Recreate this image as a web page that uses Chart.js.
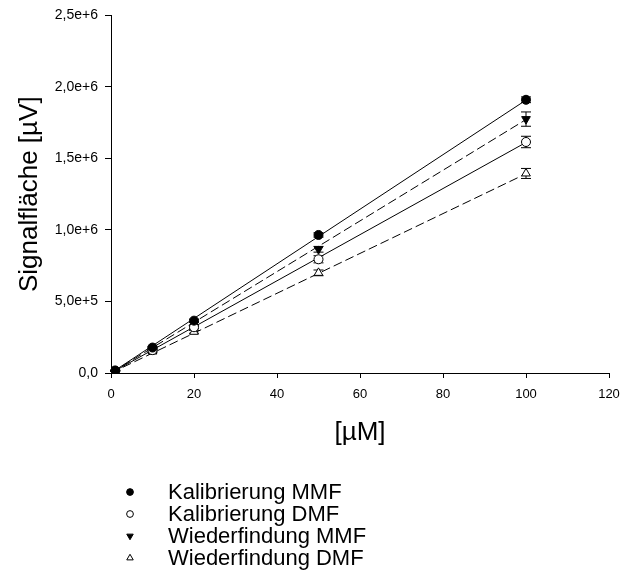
<!DOCTYPE html>
<html><head><meta charset="utf-8">
<script src="https://cdn.jsdelivr.net/npm/chart.js@4.4.0/dist/chart.umd.min.js"></script>
<style>html,body{margin:0;padding:0;background:#fff}#wrap{position:relative;width:621px;height:583px}</style>
</head><body><div id="wrap"><canvas id="c"></canvas></div>
<script>
// ---- data ----
const concentrations = [1, 10, 20, 50, 100];
const kalibrierungMMF = [18000, 178000, 366000, 965000, 1910000];
const kalibrierungDMF = [15000, 160000, 320000, 795000, 1615000];
const wiederfindungMMF = [17000, 170000, 345000, 865000, 1775000];
const wiederfindungDMF = [14000, 150000, 288000, 700000, 1395000];
const errKalMMF = [3000, 8000, 10000, 15000, 20000];
const errKalDMF = [3000, 8000, 10000, 25000, 40000];
const errWfMMF = [3000, 8000, 10000, 20000, 50000];
const errWfDMF = [3000, 8000, 10000, 20000, 35000];
const fitX = [0, 100];
const fitKalMMF = [0, 1908000];
const fitKalDMF = [0, 1612000];
const fitWfMMF = [0, 1772000];
const fitWfDMF = [0, 1393000];
const seriesLabels = ['Kalibrierung MMF', 'Kalibrierung DMF', 'Wiederfindung MMF', 'Wiederfindung DMF'];
const xTickValues = [0, 20, 40, 60, 80, 100, 120];
const yTickLabels = ['0,0', '5,0e+5', '1,0e+6', '1,5e+6', '2,0e+6', '2,5e+6'];
const xTitle = '[µM]';
const yTitle = 'Signalfläche [µV]';

const FONT = "Arial, 'Liberation Sans', sans-serif";
const pts = (ys) => concentrations.map((x, i) => ({x, y: ys[i]}));
const fit = (ys) => fitX.map((x, i) => ({x, y: ys[i]}));

const markerStyles = [
  {pointStyle: 'circle', rotation: 0, fill: '#000', radius: 4.5},
  {pointStyle: 'circle', rotation: 0, fill: '#fff', radius: 4.5},
  {pointStyle: 'triangle', rotation: 180, fill: '#000', radius: 5},
  {pointStyle: 'triangle', rotation: 0, fill: '#fff', radius: 5}
];
const seriesData = [kalibrierungMMF, kalibrierungDMF, wiederfindungMMF, wiederfindungDMF];
const seriesErr = [errKalMMF, errKalDMF, errWfMMF, errWfDMF];
const fitData = [fitKalMMF, fitKalDMF, fitWfMMF, fitWfDMF];
const fitDash = [[], [], [9, 4], [9, 4]];

const datasets = [];
seriesData.forEach((ys, i) => {
  const m = markerStyles[i];
  datasets.push({
    label: seriesLabels[i], data: pts(ys), errors: seriesErr[i],
    pointStyle: m.pointStyle, rotation: m.rotation, pointRadius: m.radius,
    pointBackgroundColor: m.fill, pointBorderColor: '#000', pointBorderWidth: 1,
    showLine: false, order: 0
  });
});
fitData.forEach((ys, i) => {
  datasets.push({
    label: seriesLabels[i] + ' fit', data: fit(ys), showLine: true, pointRadius: 0,
    borderColor: '#000', borderWidth: 1, borderDash: fitDash[i], fill: false, order: 1
  });
});

const errorBars = {
  id: 'errorBars',
  beforeDatasetsDraw(chart) {
    const {ctx, scales: {x, y}} = chart;
    ctx.save();
    ctx.strokeStyle = '#000'; ctx.lineWidth = 1;
    chart.data.datasets.forEach(ds => {
      if (!ds.errors) return;
      ds.data.forEach((p, i) => {
        const e = ds.errors[i];
        const px = x.getPixelForValue(p.x);
        const top = y.getPixelForValue(p.y + e), bot = y.getPixelForValue(p.y - e);
        ctx.beginPath();
        ctx.moveTo(px, top); ctx.lineTo(px, bot);
        ctx.moveTo(px - 5, top); ctx.lineTo(px + 5, top);
        ctx.moveTo(px - 5, bot); ctx.lineTo(px + 5, bot);
        ctx.stroke();
      });
    });
    ctx.restore();
  }
};

const customLegend = {
  id: 'customLegend',
  afterDraw(chart) {
    const {ctx, chartArea} = chart;
    ctx.save();
    const mx = chartArea.left + 19, tx = chartArea.left + 57;
    seriesLabels.forEach((lab, i) => {
      const yy = chartArea.bottom + 119 + i * 22;
      const m = markerStyles[i];
      ctx.fillStyle = m.fill; ctx.strokeStyle = '#000'; ctx.lineWidth = 1;
      Chart.helpers.drawPoint(ctx, {pointStyle: m.pointStyle, rotation: m.rotation, radius: m.radius * 0.75, borderWidth: 1}, mx, yy);
      ctx.fillStyle = '#000';
      ctx.font = '22px ' + FONT;
      ctx.textBaseline = 'middle'; ctx.textAlign = 'left';
      ctx.fillText(lab, tx, yy + 1);
    });
    ctx.restore();
  }
};

new Chart(document.getElementById('c'), {
  type: 'scatter',
  data: {datasets},
  plugins: [errorBars, customLegend],
  options: {
    responsive: true, maintainAspectRatio: false, animation: false,
    layout: {padding: {top: 15, right: 12, bottom: 135, left: 0}},
    plugins: {legend: {display: false}, tooltip: {enabled: false}},
    scales: {
      x: {
        type: 'linear', min: 0, max: 120,
        afterFit: s => { s.height = 75; s.paddingRight = 0; s.paddingLeft = 0; },
        afterBuildTicks: s => { s.ticks = xTickValues.map(v => ({value: v})); },
        border: {display: true, color: '#000', width: 1},
        grid: {display: true, drawOnChartArea: false, drawTicks: true, tickLength: 5, tickColor: '#000'},
        ticks: {color: '#000', font: {family: FONT, size: 13}, padding: 9, maxRotation: 0},
        title: {display: true, text: xTitle, color: '#000', font: {family: FONT, size: 26}, padding: {top: 0, bottom: 0}}
      },
      y: {
        type: 'linear', min: 0, max: 2500000,
        afterFit: s => { s.width = 111; },
        afterBuildTicks: s => { s.ticks = yTickLabels.map((t, i) => ({value: i * 500000})); },
        border: {display: true, color: '#000', width: 1},
        grid: {display: true, drawOnChartArea: false, drawTicks: true, tickLength: 6, tickColor: '#000'},
        ticks: {color: '#000', font: {family: FONT, size: 14}, padding: 7,
          callback: (v) => yTickLabels[Math.round(v / 500000)]},
        title: {display: true, text: yTitle, color: '#000', font: {family: FONT, size: 26}, padding: {top: 14, bottom: 0}}
      }
    }
  }
});
</script></body></html>
